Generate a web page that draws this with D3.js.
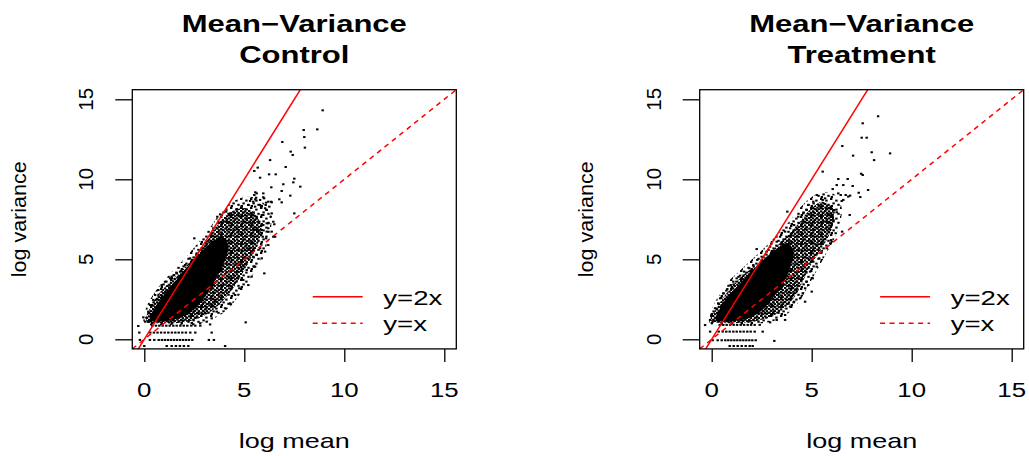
<!DOCTYPE html>
<html>
<head>
<meta charset="utf-8">
<script src="https://cdn.jsdelivr.net/npm/d3@7"></script>
<style>
  body { margin: 0; background: #fff; }
  text { font-family: "Liberation Sans", Arial, Helvetica, sans-serif; fill: #000; }
</style>
</head>
<body>
<svg id="chart" width="1029" height="456"></svg>
<script>
// ---- data ----
const tickValues = [0, 5, 10, 15];
const axisLimits = [0, 15];
const panelTitles = [["Mean\u2212Variance", "Control"], ["Mean\u2212Variance", "Treatment"]];
const axisLabels = { x: "log mean", y: "log variance" };
const legendLabels = ["y=2x", "y=x"];
const refSlopes = [2, 1];

// Control: saturated centre of the gene cloud (log mean, log variance)
const ctrlCore = [[0.3,1.2],[0.5,1.9],[1.0,2.8],[1.6,3.7],[2.2,4.6],[2.8,5.4],[3.4,6.1],[3.9,6.4],[4.2,5.9],[4.0,4.8],[3.5,3.6],[3.0,2.6],[2.5,1.9],[1.9,1.4],[1.1,1.15],[0.5,1.1]];
// Control: densely speckled band round the centre
const ctrlBand = [[0.1,1.15],[0.3,2.0],[0.7,2.8],[1.2,3.5],[1.8,4.2],[2.4,5.0],[2.9,5.8],[3.4,6.6],[3.8,7.4],[4.4,8.0],[5.0,8.2],[5.5,7.9],[5.85,7.0],[5.7,6.0],[5.3,5.0],[4.9,4.1],[4.5,3.3],[4.0,2.5],[3.4,1.8],[2.7,1.3],[1.9,1.05],[1.0,1.0]];
// Control: thin outer halo of the cloud
const ctrlHalo = [[0.0,1.0],[0.1,2.0],[0.5,2.9],[1.0,3.7],[1.6,4.5],[2.2,5.3],[2.8,6.2],[3.3,7.0],[3.8,7.9],[4.4,8.6],[5.1,8.9],[5.8,8.7],[6.3,7.8],[6.3,6.6],[6.0,5.5],[5.6,4.4],[5.1,3.4],[4.6,2.5],[4.0,1.7],[3.3,1.2],[2.4,0.95],[1.2,0.9]];
// Control: individual genes outside the dense cloud
const ctrlPoints = [
  [8.92,14.31],[8.65,13.12],[7.97,13.08],[8.00,12.64],[8.03,11.98],[6.90,12.33],[7.32,11.73],[7.42,11.52],[6.29,11.20],[7.07,10.77],
  [5.79,10.10],[6.24,10.31],[6.57,10.31],[5.67,10.73],[5.50,10.52],[7.50,10.04],[7.45,9.81],[7.80,9.54],[6.35,9.50],[6.95,9.69],
  [6.87,9.27],[7.30,8.98],[5.55,9.19],[5.95,8.88],[5.55,8.75],[6.09,8.54],[6.34,8.60],[6.75,8.75],[6.87,8.56],[7.50,7.87],
  [6.50,7.19],[6.45,6.41],[6.20,6.94],[5.07,1.06],[6.00,4.12],[5.49,4.54],[4.32,2.19],[4.04,-0.42],
  [5.29,8.65],[5.54,8.29],[5.79,8.40],[6.04,8.19],[6.25,8.29],[6.37,7.87],[5.95,7.77],[5.62,7.56],[5.29,7.35],[6.12,7.25],[5.87,6.83],[5.45,6.94],
  [3.79,7.81],[3.65,7.66],[4.09,7.98],[4.29,7.87],[4.62,8.14],[4.87,8.29],[5.20,8.39],[5.45,8.60],[5.59,8.85],[5.79,8.71],
  [5.99,8.81],[6.20,8.60],[6.37,8.56],[5.62,9.12],[5.50,9.02],[5.95,9.12],[6.07,8.39],[5.84,8.29],[6.12,8.08],[6.32,7.66],
  [6.45,7.35],[6.20,7.25],[6.37,6.73],[6.54,6.41],[6.09,6.31],[6.20,5.89],[5.79,5.69],[6.04,5.48],[5.62,5.27],[5.87,5.06],
  [5.45,5.16],[5.54,4.54],[5.12,4.33],[5.37,3.92],[4.95,3.71],[5.20,3.39],[4.75,3.19],[4.54,2.77],[4.29,2.25],[4.04,1.94],
  [3.62,1.73],[3.37,1.31],[3.12,1.10],[2.79,1.00],[2.45,0.94],[3.54,2.35],[4.79,4.64],[4.95,5.06],[5.25,5.69],
  [4.12,7.35],[4.45,7.56],[4.79,7.66],[5.12,7.56],[5.37,7.87],[5.62,7.66],[5.75,7.35],[5.95,7.14],[6.12,6.73],[5.62,6.83],[5.92,6.41],
  [3.70,7.35],[3.45,6.94],[3.32,6.42],[3.12,6.10],[2.87,5.69],[2.62,5.37],[2.50,6.31],[2.29,5.06],[2.04,4.64],[1.79,4.23],
  [1.49,4.02],[1.29,3.81],[1.04,3.60],[0.87,3.39],[0.70,3.08],[0.54,2.77],[0.45,2.46],[0.29,2.14],[0.20,1.73],[1.37,3.92],[1.62,4.12],
  [-0.05,1.37],[0.05,1.10],[0.20,1.10],
  [-0.30,0.83],[0.40,0.85],[0.58,0.85],[0.75,0.85],[0.92,0.85],[1.10,0.85],[1.27,0.85],[1.45,0.85],[1.62,0.85],
  [1.80,0.85],[1.97,0.85],[2.15,0.85],[2.35,0.85],[2.55,0.85],[2.80,0.85],[3.29,0.93],
  [-0.25,0.42],[0.30,0.42],[0.48,0.42],[0.66,0.42],[0.84,0.42],[1.02,0.42],[1.20,0.42],[1.38,0.42],[1.55,0.42],
  [1.72,0.42],[1.90,0.42],[2.08,0.42],[2.30,0.42],[2.55,0.42],[3.37,0.42],
  [-0.22,-0.04],[0.28,-0.04],[0.50,-0.04],[0.72,-0.04],[0.88,-0.04],[1.03,-0.04],[1.18,-0.04],[1.33,-0.04],[1.48,-0.04],
  [1.63,-0.04],[1.78,-0.04],[1.93,-0.04],[2.08,-0.04],[2.23,-0.04],[2.40,-0.04],[3.23,-0.04],[3.48,-0.04],
  [0.00,-0.42],[1.12,-0.42],[1.37,-0.42],[1.58,-0.42],[1.78,-0.42],[1.98,-0.42],[2.20,-0.42]
];

// Treatment: saturated centre of the gene cloud
const treatCore = [[0.2,1.2],[0.4,1.9],[0.9,2.8],[1.5,3.6],[2.1,4.4],[2.7,5.1],[3.3,5.7],[3.8,6.0],[4.1,5.5],[3.9,4.4],[3.5,3.3],[3.0,2.5],[2.5,1.8],[1.9,1.35],[1.1,1.15],[0.5,1.1]];
// Treatment: densely speckled band round the centre
const treatBand = [[-0.05,1.2],[0.25,1.94],[0.67,2.77],[1.17,3.5],[1.67,4.12],[2.33,4.7],[2.9,5.37],[3.4,6.0],[4.0,6.73],[4.5,7.5],[5.0,8.2],[5.5,8.6],[5.9,8.4],[6.1,7.9],[6.05,7.1],[5.75,6.2],[5.33,5.37],[4.9,4.54],[4.55,3.6],[4.15,2.66],[3.55,1.83],[2.75,1.31],[1.75,1.06],[0.75,1.0]];
// Treatment: thin outer halo of the cloud
const treatHalo = [[-0.1,1.0],[0.0,1.9],[0.4,2.8],[0.9,3.7],[1.5,4.4],[2.1,5.1],[2.7,5.8],[3.3,6.6],[3.9,7.4],[4.4,8.2],[5.0,8.9],[5.6,9.2],[6.2,9.0],[6.5,8.2],[6.4,7.2],[6.1,6.2],[5.7,5.3],[5.3,4.4],[4.9,3.5],[4.5,2.6],[3.9,1.7],[3.1,1.15],[2.0,0.95],[0.8,0.9]];
// Treatment: individual genes outside the dense cloud
const treatPoints = [
  [8.32,13.94],[7.55,13.50],[7.50,12.60],[7.75,12.60],[6.53,12.08],[8.00,11.69],[8.92,11.62],[7.07,11.48],[8.12,11.20],[5.55,10.48],
  [7.47,10.35],[7.55,10.27],[6.33,10.02],[6.80,10.02],[6.25,9.64],[6.58,9.64],[7.05,9.58],[7.82,9.33],[6.05,9.39],[6.45,9.02],
  [6.70,9.02],[6.92,8.98],[7.35,9.16],[7.43,8.89],[6.50,8.64],[5.25,9.02],[5.55,8.71],[5.67,8.81],[6.12,8.08],[6.25,7.94],
  [6.90,7.77],[3.78,7.98],[6.08,7.46],[5.88,6.94],[6.20,6.63],[6.52,6.73],[5.97,6.20],[5.92,6.00],[2.25,5.64],[3.67,1.21],[3.13,-0.10],
  [5.08,8.60],[4.83,8.39],[5.42,8.29],[5.75,8.19],[6.00,8.14],[5.83,7.77],[6.05,7.66],[5.50,7.60],[5.75,7.35],[5.58,6.10],
  [5.25,5.89],[5.75,5.69],[5.50,5.48],[5.38,5.06],[5.08,4.85],[5.25,4.54],[4.92,4.23],[5.05,3.81],[4.75,3.60],[4.67,3.19],
  [4.55,2.87],[4.42,2.56],[4.22,3.12],[4.12,2.35],[3.92,2.04],[3.67,1.52],[3.25,1.21],[2.92,1.06],[4.67,2.35],[4.83,3.39],
  [5.00,2.98],[6.33,9.12],[6.58,8.71],[6.83,8.92],
  [3.42,6.41],[3.25,6.10],[2.92,5.79],[2.75,5.48],[2.50,5.16],[2.28,4.96],[2.08,4.64],[1.88,4.44],[1.62,4.23],[1.42,3.98],
  [1.25,3.81],[1.08,3.60],[0.95,3.39],[0.78,3.14],[0.58,2.87],[0.42,2.56],[0.33,2.25],[0.17,1.94],[0.00,1.52],[4.12,7.14],
  [3.92,6.94],[3.67,6.73],[4.33,7.66],[4.58,7.87],[4.75,8.08],
  [-0.08,1.21],[0.05,1.10],
  [-0.33,0.89],[0.40,0.90],[0.58,0.90],[0.75,0.90],[0.92,0.90],[1.10,0.90],[1.27,0.90],[1.45,0.90],[1.62,0.90],
  [1.80,0.90],[1.97,0.90],[2.15,0.90],[2.40,0.90],
  [-0.08,0.48],[0.35,0.48],[0.55,0.48],[0.73,0.48],[0.90,0.48],[1.08,0.48],[1.25,0.48],[1.43,0.48],[1.60,0.48],
  [1.78,0.48],[1.95,0.48],[2.15,0.48],[2.55,0.48],
  [0.05,-0.06],[0.30,-0.06],[0.50,-0.06],[0.68,-0.06],[0.83,-0.06],[0.98,-0.06],[1.13,-0.06],[1.28,-0.06],[1.43,-0.06],
  [1.58,-0.06],[1.73,-0.06],[1.88,-0.06],[2.03,-0.06],[2.20,-0.06],
  [0.90,-0.42],[1.10,-0.42],[1.30,-0.42],[1.50,-0.42],[1.70,-0.42],[1.90,-0.42],[2.05,-0.42]
];

// ---- drawing ----
const panels = [
  { titles: panelTitles[0], core: ctrlCore, band: ctrlBand, halo: ctrlHalo, points: ctrlPoints, left: 132.3 },
  { titles: panelTitles[1], core: treatCore, band: treatBand, halo: treatHalo, points: treatPoints, left: 699.7 }
];
const plotTop = 89.7, plotBottom = 348.9, plotWidth = 324;
// R-style 4% padding around the axis limits
const pad = (axisLimits[1] - axisLimits[0]) * 0.04;
const domain = [axisLimits[0] - pad, axisLimits[1] + pad];

const svg = d3.select("#chart");
const defs = svg.append("defs");

// dot textures for the partly covered parts of the cloud
function dotPattern(id, w, h, spots) {
  const pat = defs.append("pattern").attr("id", id)
    .attr("patternUnits", "userSpaceOnUse").attr("width", w).attr("height", h);
  spots.forEach(([a, b]) => pat.append("rect").attr("x", a).attr("y", b)
    .attr("width", 2.4).attr("height", 2.0).attr("fill", "#000"));
}
dotPattern("dense", 8, 7, [[0,0],[3.9,0.3],[1.8,1.9],[5.6,2.1],[0.2,3.7],[4.0,4.0],[2.0,5.2],[5.5,5.0]]);
dotPattern("sparse", 10, 9, [[0,0],[5.2,1.6],[2.4,4.4],[7.3,5.8],[0.6,7.0]]);

function hText(parent, str, cx, baseline, size, stretch, weight) {
  parent.append("text")
    .attr("transform", `translate(${cx},${baseline}) scale(${stretch},1)`)
    .attr("text-anchor", "middle")
    .style("font-size", size + "px")
    .style("font-weight", weight || "normal")
    .text(str);
}
function vText(parent, str, baselineX, cy, size, stretch) {
  parent.append("text")
    .attr("transform", `translate(${baselineX},${cy}) rotate(-90) scale(${stretch},1)`)
    .attr("text-anchor", "middle")
    .style("font-size", size + "px")
    .text(str);
}

panels.forEach((p, i) => {
  const x = d3.scaleLinear().domain(domain).range([p.left, p.left + plotWidth]);
  const y = d3.scaleLinear().domain(domain).range([plotBottom, plotTop]);
  const g = svg.append("g");

  defs.append("clipPath").attr("id", "plot-clip-" + i)
    .append("rect").attr("x", p.left).attr("y", plotTop)
    .attr("width", plotWidth).attr("height", plotBottom - plotTop);
  const area = g.append("g").attr("clip-path", `url(#plot-clip-${i})`);

  // gene cloud: halo, band, centre, then single genes
  const outline = d3.line().x(d => x(d[0])).y(d => y(d[1])).curve(d3.curveCatmullRomClosed.alpha(0.5));
  area.append("path").attr("d", outline(p.halo)).attr("fill", "url(#sparse)");
  area.append("path").attr("d", outline(p.band)).attr("fill", "url(#dense)");
  area.append("path").attr("d", outline(p.core)).attr("fill", "#000");
  area.selectAll("rect.gene").data(p.points).join("rect")
    .attr("class", "gene")
    .attr("x", d => x(d[0]) - 1.2).attr("y", d => y(d[1]) - 1.0)
    .attr("width", 2.4).attr("height", 2.0).attr("fill", "#000");

  // reference lines y = 2x (solid) and y = x (dashed)
  const ref = d3.line().x(d => x(d[0])).y(d => y(d[1]));
  refSlopes.forEach((s, k) => {
    area.append("path")
      .attr("d", ref(domain.map(v => [v, s * v])))
      .attr("fill", "none").attr("stroke", "#ff0000").attr("stroke-width", 1.5)
      .attr("stroke-dasharray", k === 0 ? null : "5,4.5");
  });

  // frame
  g.append("rect").attr("x", p.left).attr("y", plotTop)
    .attr("width", plotWidth).attr("height", plotBottom - plotTop)
    .attr("fill", "none").attr("stroke", "#000").attr("stroke-width", 1.3);

  // axes: ticks from d3, labels set separately
  const xAxis = g.append("g").attr("transform", `translate(0,${plotBottom})`)
    .call(d3.axisBottom(x).tickValues(tickValues).tickSize(13).tickFormat(""));
  const yAxis = g.append("g").attr("transform", `translate(${p.left},0)`)
    .call(d3.axisLeft(y).tickValues(tickValues).tickSize(17).tickFormat(""));
  [xAxis, yAxis].forEach(a => {
    a.select(".domain").remove();
    a.selectAll(".tick line").attr("stroke", "#000").attr("stroke-width", 1.3);
  });
  tickValues.forEach(v => {
    hText(g, String(v), x(v), 396.7, 20.5, 1.26);
    vText(g, String(v), p.left - 39, y(v), 20.5, 1.0);
  });

  // axis titles
  const cx = p.left + plotWidth / 2;
  hText(g, axisLabels.x, cx, 448.3, 20, 1.35);
  vText(g, axisLabels.y, p.left - 106.5, (plotTop + plotBottom) / 2, 20.5, 1.05);

  // main title (two lines)
  hText(g, p.titles[0], cx, 32, 23.7, 1.31, "bold");
  hText(g, p.titles[1], cx, 62.5, 23.7, 1.31, "bold");

  // legend, bottom right, no box
  const legendRows = [296.7, 323.3];
  legendLabels.forEach((lab, k) => {
    g.append("line")
      .attr("x1", p.left + plotWidth - 143.6).attr("x2", p.left + plotWidth - 93.6)
      .attr("y1", legendRows[k]).attr("y2", legendRows[k])
      .attr("stroke", "#ff0000").attr("stroke-width", 1.5)
      .attr("stroke-dasharray", k === 0 ? null : "5,4.5");
    g.append("text")
      .attr("transform", `translate(${p.left + plotWidth - 73},${legendRows[k] + 8}) scale(1.38,1)`)
      .style("font-size", "20px")
      .text(lab);
  });
});
</script>
</body>
</html>
